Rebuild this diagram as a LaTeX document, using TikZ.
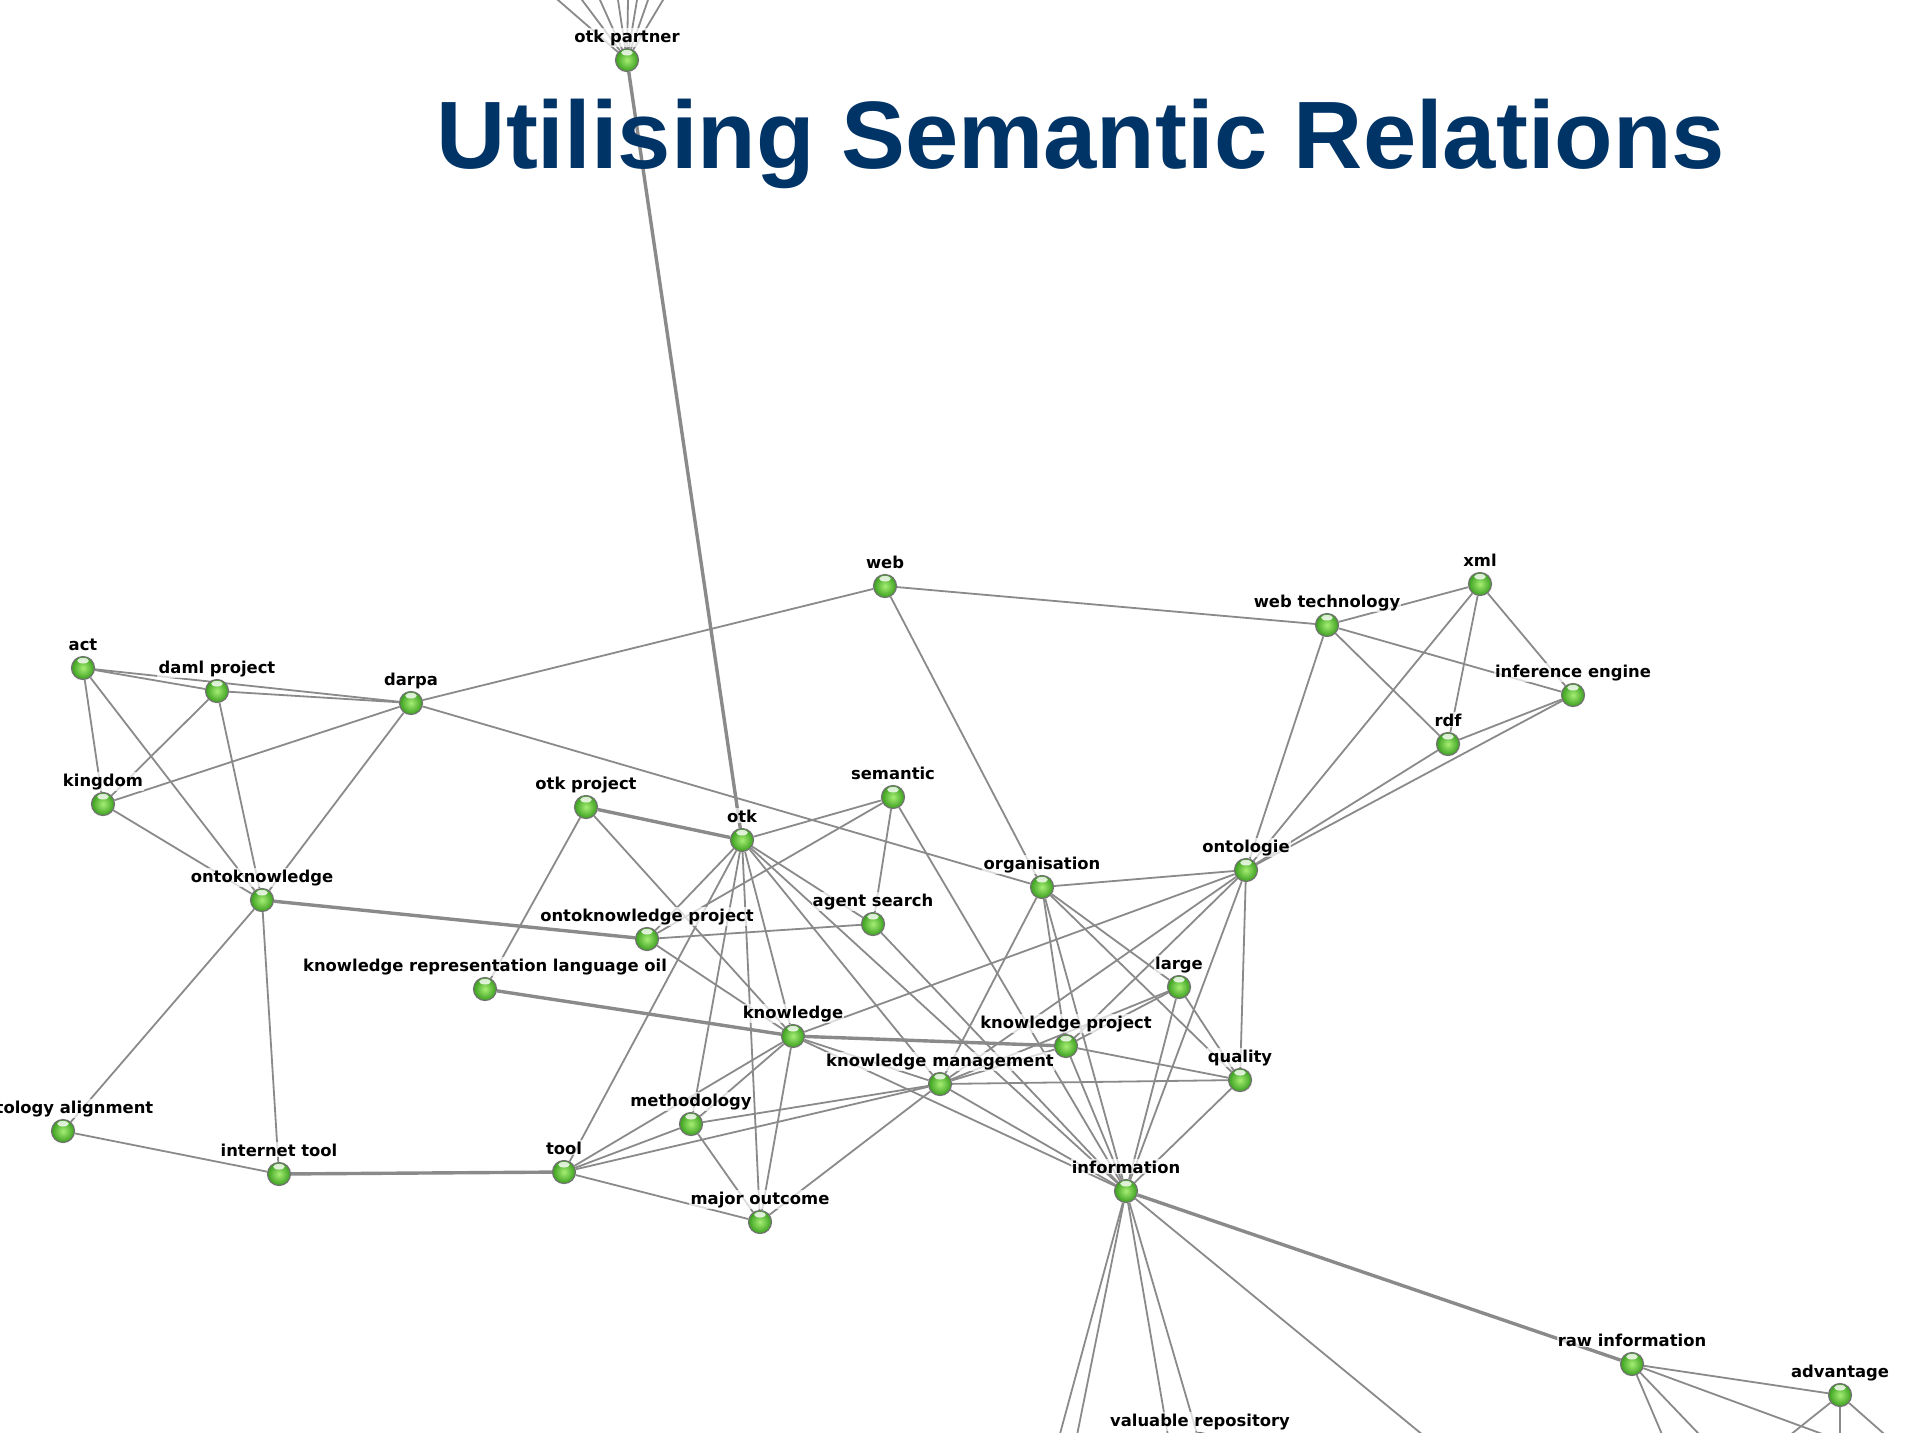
\documentclass[tikz,border=0pt]{standalone}
\usepackage{fontspec}
\newfontfamily\labfont{DejaVu Sans}
\newfontfamily\titlefont{Liberation Sans}
\usetikzlibrary{backgrounds,calc}
\definecolor{edgegray}{RGB}{138,138,138}
\definecolor{titleblue}{RGB}{0,51,102}
\definecolor{gnin}{RGB}{165,238,115}
\definecolor{gnout}{RGB}{58,158,30}
\tikzset{
  gnode/.style={circle, minimum size=11.5pt, inner sep=0pt, draw=black!55, line width=0.6pt,
    inner color=gnin, outer color=gnout,
    path picture={\fill[white,opacity=0.8] ([yshift=-2.1pt]path picture bounding box.north) ellipse (2.9pt and 1.4pt);}},
  lab/.style={font=\labfont\bfseries\fontsize{8.2}{9}\selectfont, inner sep=0.6pt,
    fill=white, fill opacity=0.7, text opacity=1, anchor=base},
  lnk/.style={draw=edgegray, line width=0.9pt},
  lnkthick/.style={draw=edgegray, line width=1.7pt},
  titlestyle/.style={font=\titlefont\bfseries\fontsize{47.9}{50}\selectfont, text=titleblue, anchor=base, inner sep=0pt}
}
\newcommand{\gn}[4]{\node[gnode] (#1) at (#2,#3) {}; \node[lab] (#1-l) at (#2,#3-18) {#4};}
\begin{document}
\begin{tikzpicture}[x=0.5pt,y=-0.5pt]
\useasboundingbox (0,0) rectangle (1911,1432);
\clip (0,0) rectangle (1911,1432);
% nodes
\gn{otkpartner}{627}{60}{otk partner}
\gn{act}{83}{668}{act}
\gn{daml}{217}{691}{daml project}
\gn{darpa}{411}{703}{darpa}
\gn{kingdom}{103}{804}{kingdom}
\gn{ontok}{262}{900}{ontoknowledge}
\gn{otkproj}{586}{807}{otk project}
\gn{otk}{742}{840}{otk}
\gn{semantic}{893}{797}{semantic}
\gn{web}{885}{586}{web}
\gn{webtech}{1327}{625}{web technology}
\gn{xml}{1480}{584}{xml}
\gn{infeng}{1573}{695}{inference engine}
\gn{rdf}{1448}{744}{rdf}
\gn{ontologie}{1246}{870}{ontologie}
\gn{org}{1042}{887}{organisation}
\gn{agent}{873}{924}{agent search}
\gn{opj}{647}{939}{ontoknowledge project}
\gn{krlo}{485}{989}{knowledge representation language oil}
\gn{large}{1179}{987}{large}
\gn{knowledge}{793}{1036}{knowledge}
\gn{kp}{1066}{1046}{knowledge project}
\gn{km}{940}{1084}{knowledge management}
\gn{quality}{1240}{1080}{quality}
\gn{method}{691}{1124}{methodology}
\gn{ontoalign}{63}{1131}{ontology alignment}
\gn{inettool}{279}{1174}{internet tool}
\gn{tool}{564}{1172}{tool}
\gn{major}{760}{1222}{major outcome}
\gn{info}{1126}{1191}{information}
\gn{rawinfo}{1632}{1364}{raw information}
\gn{adv}{1840}{1395}{advantage}
\gn{valrep}{1200}{1444}{valuable repository}
% free ends beyond the frame
\coordinate (t1) at (489,-60); \coordinate (t2) at (537,-60);
\coordinate (t3) at (573,-60); \coordinate (t4) at (609,-60);
\coordinate (t5) at (629,-60); \coordinate (t6) at (647,-60);
\coordinate (t7) at (669,-60); \coordinate (t8) at (699,-60);
\coordinate (b1) at (1042,1500); \coordinate (b2) at (1064,1500);
\coordinate (b3) at (1179,1500); \coordinate (b5) at (1502,1500);
\coordinate (r1) at (1690,1500); \coordinate (r2) at (1762,1500);
\coordinate (r3) at (2002,1500);
\coordinate (a1) at (1709,1500); \coordinate (a2) at (1840,1500);
\coordinate (a3) at (1959,1500);
% title
\node[titlestyle] (title) at (1081,168) {Utilising Semantic Relations};
% connectors
\begin{pgfonlayer}{background}
\fill[white] (0,0) rectangle (1911,1432);
\clip (0,0) rectangle (1911,1432);
\foreach \a/\b in {act/daml, act/darpa, act/kingdom, act/ontok,
  daml/darpa, daml/kingdom, daml/ontok,
  darpa/kingdom, darpa/ontok, darpa/web, darpa/org,
  kingdom/ontok, ontok/ontoalign, ontok/inettool, ontoalign/inettool,
  otkproj/krlo, otkproj/knowledge,
  otk/semantic, otk/opj, otk/tool, otk/method, otk/major, otk/knowledge, otk/km, otk/info, otk/agent,
  semantic/opj, semantic/agent, semantic/info,
  agent/opj, agent/info, opj/knowledge,
  web/webtech, web/org,
  webtech/xml, webtech/infeng, webtech/rdf, webtech/ontologie,
  xml/ontologie, xml/rdf, xml/infeng,
  rdf/infeng, rdf/ontologie, infeng/ontologie,
  ontologie/org, ontologie/knowledge, ontologie/kp, ontologie/km, ontologie/info, ontologie/quality,
  org/km, org/info, org/kp, org/large, org/quality,
  large/kp, large/km, large/info, large/quality,
  knowledge/method, knowledge/tool, knowledge/major, knowledge/km, knowledge/info,
  kp/km, kp/quality, kp/info,
  km/tool, km/method, km/major, km/info, km/quality,
  quality/info, method/tool, method/major, tool/major,
  rawinfo/adv, info/valrep,
  otkpartner/t1, otkpartner/t2, otkpartner/t3, otkpartner/t4,
  otkpartner/t5, otkpartner/t6, otkpartner/t7, otkpartner/t8,
  info/b1, info/b2, info/b3, info/b5,
  rawinfo/r1, rawinfo/r2, rawinfo/r3,
  adv/a1, adv/a2, adv/a3}
  {\draw[lnk] (\a) -- (\b);}
\foreach \a/\b in {otkpartner/otk, otkproj/otk, ontok/opj, krlo/knowledge,
  knowledge/kp, inettool/tool, info/rawinfo}
  {\draw[lnkthick] (\a) -- (\b);}
\end{pgfonlayer}
\end{tikzpicture}
\end{document}
